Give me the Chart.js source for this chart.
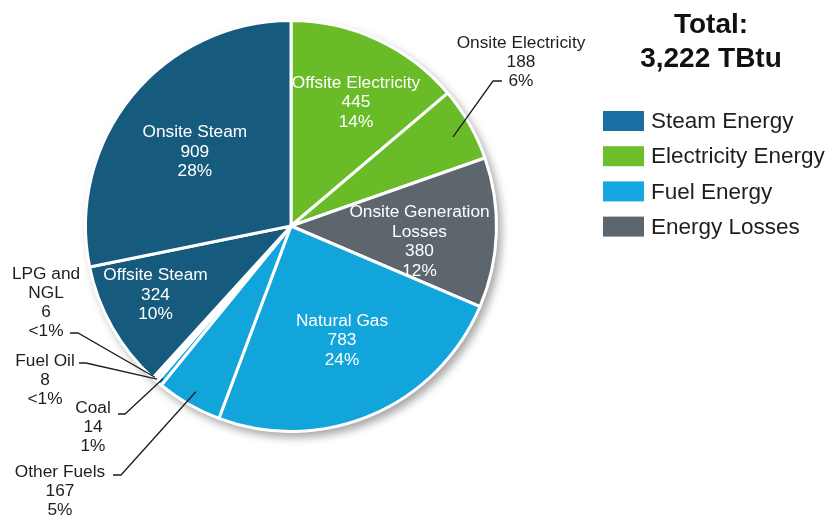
<!DOCTYPE html>
<html>
<head>
<meta charset="utf-8">
<script src="https://cdn.jsdelivr.net/npm/chart.js@4.4.1/dist/chart.umd.min.js"></script>
<style>
    html, body { margin: 0; padding: 0; background: #ffffff; }
    #wrap { position: relative; width: 830px; height: 519px; }
</style>
</head>
<body>
<div id="wrap"><canvas id="energyPie"></canvas></div>
<script>
// slices, clockwise from 12 o'clock
const sliceNames = ["Offsite Electricity", "Onsite Electricity", "Onsite Generation Losses", "Natural Gas",
    "Other Fuels", "Coal", "Fuel Oil", "LPG and NGL", "Offsite Steam", "Onsite Steam"];
const sliceValues = [445, 188, 380, 783, 167, 14, 8, 6, 324, 909];
const slicePercents = ["14%", "6%", "12%", "24%", "5%", "1%", "<1%", "<1%", "10%", "28%"];
const sliceGroups = [1, 1, 3, 2, 2, 2, 2, 2, 0, 0];

const groupNames = ["Steam Energy", "Electricity Energy", "Fuel Energy", "Energy Losses"];
const totalLabel = ["Total:", "3,222 TBtu"];

const pieColors = ["#165b7e", "#69bc28", "#12a5dc", "#5d666d"];
const legendColors = ["#1a6fa2", "#6cbf2a", "#14a7e0", "#5d666d"];

const FONT = "'Liberation Sans', Arial, sans-serif";

// label placement: inside labels by polar position (deg clockwise from top, fraction of radius),
// outside labels by text anchor plus the leader line's end on the slice
const labelStyle = {
    0: { inside: true, angle: 27.7, r: 0.68 },
    1: { x: 521, y: 43, lineFrom: [493, 81], lineTo: 0.9, angleTweak: 1 },
    2: { inside: true, angle: 97, r: 0.63, lines: ["Onsite Generation", "Losses"] },
    3: { inside: true, angle: 156, r: 0.61 },
    4: { x: 60, y: 472, lineFrom: [113, 475], elbow: 8, lineTo: 0.93, angleTweak: 0 },
    5: { x: 93, y: 408, lineFrom: [118, 414], elbow: 7, lineTo: 0.97, angleTweak: 0 },
    6: { x: 45, y: 361, lineFrom: [79, 363], elbow: 7, lineTo: 0.99, angleTweak: 0 },
    7: { x: 46, y: 274, lines: ["LPG and", "NGL"], lineFrom: [70, 333], elbow: 8, lineTo: 0.99, angleTweak: 0 },
    8: { inside: true, angle: 243, r: 0.74 },
    9: { inside: true, angle: 307.5, r: 0.59 }
};

function polar(arc, deg, frac) {
    const a = (deg - 90) * Math.PI / 180;
    return [arc.x + Math.cos(a) * arc.outerRadius * frac, arc.y + Math.sin(a) * arc.outerRadius * frac];
}

const pieDecor = {
    id: "pieDecor",
    beforeDatasetsDraw(chart) {
        // soft drop shadow under the whole pie
        const arc = chart.getDatasetMeta(0).data[0];
        const ctx = chart.ctx;
        ctx.save();
        ctx.shadowColor = "rgba(0,0,0,0.35)";
        ctx.shadowBlur = 9;
        ctx.shadowOffsetX = 4;
        ctx.shadowOffsetY = 5;
        ctx.fillStyle = "#ffffff";
        ctx.beginPath();
        ctx.arc(arc.x, arc.y, arc.outerRadius + 1, 0, Math.PI * 2);
        ctx.fill();
        ctx.restore();
    },
    afterDatasetsDraw(chart) {
        const ctx = chart.ctx;
        const arcs = chart.getDatasetMeta(0).data;
        ctx.save();
        ctx.font = "17.3px " + FONT;
        ctx.textAlign = "center";
        ctx.textBaseline = "middle";
        const lh = 19.5;

        arcs.forEach(function (arc, i) {
            const st = labelStyle[i];
            const lines = (st.lines || [sliceNames[i]]).concat([String(sliceValues[i]), slicePercents[i]]);
            if (st.inside) {
                const p = polar(arc, st.angle, st.r);
                const y0 = p[1] - (lines.length - 1) * lh / 2;
                ctx.fillStyle = "#ffffff";
                lines.forEach(function (t, k) { ctx.fillText(t, p[0], y0 + k * lh); });
                return;
            }
            ctx.fillStyle = "#1e1e1e";
            lines.forEach(function (t, k) { ctx.fillText(t, st.x, st.y + k * (lh - 0.5)); });

            // leader line to the middle of the slice
            const mid = ((arc.startAngle + arc.endAngle) / 2) * 180 / Math.PI + 90 + st.angleTweak;
            const end = polar(arc, mid, st.lineTo);
            ctx.strokeStyle = "#1e1e1e";
            ctx.lineWidth = 1.3;
            ctx.beginPath();
            if (st.elbow) {
                ctx.moveTo(st.lineFrom[0], st.lineFrom[1]);
                ctx.lineTo(st.lineFrom[0] + st.elbow, st.lineFrom[1]);
            } else {
                ctx.moveTo(st.lineFrom[0] + 9, st.lineFrom[1]);
                ctx.lineTo(st.lineFrom[0], st.lineFrom[1]);
            }
            ctx.lineTo(end[0], end[1]);
            ctx.stroke();
        });
        ctx.restore();
    },
    afterDraw(chart) {
        const ctx = chart.ctx;
        ctx.save();
        ctx.fillStyle = "#111111";
        ctx.textAlign = "center";
        ctx.textBaseline = "middle";
        ctx.font = "bold 28px " + FONT;
        ctx.fillText(totalLabel[0], 711, 25);
        ctx.fillText(totalLabel[1], 711, 59);

        ctx.textAlign = "left";
        ctx.font = "22.5px " + FONT;
        groupNames.forEach(function (name, g) {
            const y = 121 + g * 35.2;
            ctx.fillStyle = legendColors[g];
            ctx.fillRect(603, y - 10, 41, 20);
            ctx.fillStyle = "#1e1e1e";
            ctx.fillText(name, 651, y + 1);
        });
        ctx.restore();
    }
};

new Chart(document.getElementById("energyPie"), {
    type: "pie",
    data: {
        labels: sliceNames,
        datasets: [{
            data: sliceValues,
            backgroundColor: sliceGroups.map(function (g) { return pieColors[g]; }),
            borderColor: "#ffffff",
            borderWidth: 3
        }]
    },
    options: {
        responsive: true,
        maintainAspectRatio: false,
        animation: false,
        rotation: 0,
        layout: {
            padding: { left: 84, top: 18, right: 332, bottom: 85 }
        },
        plugins: {
            legend: { display: false },
            tooltip: { enabled: false }
        }
    },
    plugins: [pieDecor]
});
</script>
</body>
</html>
